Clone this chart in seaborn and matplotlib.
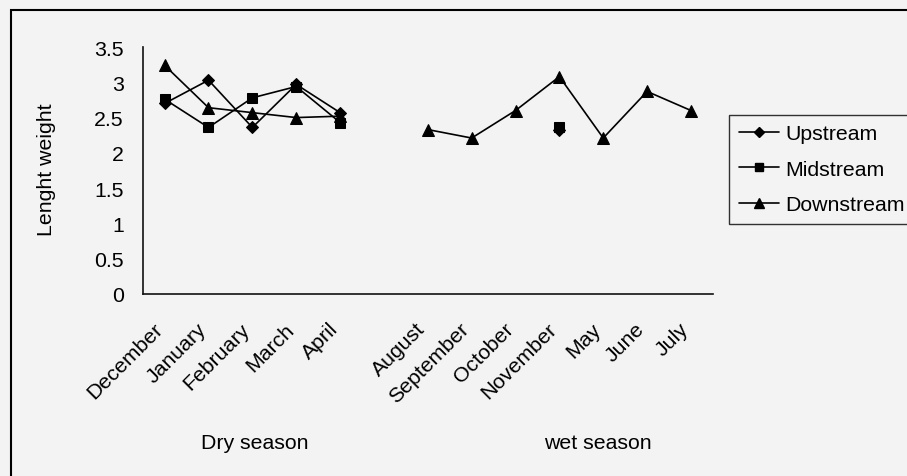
import numpy as np
import pandas as pd
import matplotlib
matplotlib.use("Agg")
import matplotlib.pyplot as plt
from matplotlib.lines import Line2D
from matplotlib.patches import Rectangle
import matplotlib.transforms as mtrans
import seaborn as sns

# ---- data ----
months = ["December", "January", "February", "March", "April", "",
          "August", "September", "October", "November", "May", "June", "July"]
seasons = ["Dry"] * 5 + [""] + ["Wet"] * 7
upstream = [2.70, 3.03, 2.36, 2.97, 2.57, np.nan,
            np.nan, np.nan, np.nan, 2.32, np.nan, np.nan, np.nan]
midstream = [2.76, 2.36, 2.78, 2.94, 2.43, np.nan,
             np.nan, np.nan, np.nan, 2.37, np.nan, np.nan, np.nan]
downstream = [3.24, 2.64, 2.57, 2.50, 2.52, np.nan,
              2.33, 2.21, 2.60, 3.08, 2.21, 2.87, 2.60]
sites = ["Upstream", "Midstream", "Downstream"]
season_labels = ["Dry season", "wet season"]
yticks = [0, 0.5, 1, 1.5, 2, 2.5, 3, 3.5]
ytick_labels = ["0", "0.5", "1", "1.5", "2", "2.5", "3", "3.5"]

rows = []
for site, vals in zip(sites, [upstream, midstream, downstream]):
    for i, (m, s, v) in enumerate(zip(months, seasons, vals)):
        rows.append({"pos": i, "month": m, "season": s, "site": site, "value": v})
df = pd.DataFrame(rows).dropna(subset=["value"])

# ---- style ----
sns.set_style("white")
plt.rcParams["font.family"] = ["Liberation Sans", "DejaVu Sans"]
for k in ["text.color", "axes.labelcolor", "xtick.color", "ytick.color"]:
    plt.rcParams[k] = "black"
bg = "#f3f3f3"
fs = 15.3

fig = plt.figure(figsize=(9.07, 4.77), dpi=100, facecolor=bg)
W, H = 907, 477
x0, x1 = 142.7, 712.9
ytop, ybot = 48, 295
ax = fig.add_axes([x0 / W, 1 - ybot / H, (x1 - x0) / W, (ybot - ytop) / H])
ax.set_facecolor(bg)

markers = {"Upstream": "D", "Midstream": "s", "Downstream": "^"}
msizes = {"Upstream": 6.5, "Midstream": 7, "Downstream": 8.5}

for season in ["Dry", "Wet"]:
    sub = df[df["season"] == season]
    for site in sites:
        d = sub[sub["site"] == site]
        sns.lineplot(data=d, x="pos", y="value", color="black",
                     marker=markers[site], markersize=msizes[site],
                     markeredgecolor="black", markerfacecolor="black",
                     linewidth=1.2, ax=ax, legend=False, sort=True)

ax.set_xlim(-0.5, len(months) - 0.5)
ax.set_ylim(0, 3.5)
ax.set_yticks(yticks)
ax.set_yticklabels(ytick_labels, fontsize=fs)
ax.set_xticks(range(len(months)))
ax.set_xticklabels(months, rotation=45, ha="right", rotation_mode="anchor", fontsize=fs)
ax.set_xticks(np.arange(-0.5, len(months)), minor=True)
ax.tick_params(axis="x", which="major", length=0, pad=8)
ax.tick_params(axis="x", which="minor", length=6, width=1.2, direction="out", color="#111111")
ax.tick_params(axis="y", which="major", length=6.5, width=1.2, direction="out", color="#111111", pad=7)
offset = mtrans.ScaledTranslation(-12 / 100, -14 / 100, fig.dpi_scale_trans)
for lab in ax.get_xticklabels():
    lab.set_transform(lab.get_transform() + offset)
ax.set_xlabel("")
ax.set_ylabel("Lenght weight", fontsize=fs, va="center")
ax.yaxis.set_label_coords(-0.168, 0.508)
for side in ["top", "right"]:
    ax.spines[side].set_visible(False)
for side in ["left", "bottom"]:
    ax.spines[side].set_color("#111111")
    ax.spines[side].set_linewidth(1.2)

# season labels
trans = mtrans.blended_transform_factory(ax.transData, fig.transFigure)
ax.text(2.06, 1 - 444 / H, season_labels[0], transform=trans, ha="center", va="center", fontsize=fs)
ax.text(9.88, 1 - 444 / H, season_labels[1], transform=trans, ha="center", va="center", fontsize=fs)

# legend
handles = [Line2D([0], [0], color="black", lw=1.2, marker=markers[s], markersize=msizes[s] - 1,
                  markerfacecolor="black", markeredgecolor="black") for s in sites]
leg = fig.legend(handles, sites, loc="lower left", bbox_to_anchor=(729 / W, 1 - 225 / H),
                 bbox_transform=fig.transFigure, borderaxespad=0, frameon=True, fancybox=False,
                 fontsize=fs, handlelength=1.9, handletextpad=0.3, labelspacing=0.78,
                 borderpad=0.45)
leg.get_frame().set_edgecolor("black")
leg.get_frame().set_linewidth(1.0)
leg.get_frame().set_facecolor(bg)

# outer frame
fig.patches.append(Rectangle((11 / W, -0.1), 1.2, 1.1 - 11 / H, transform=fig.transFigure,
                             fill=False, edgecolor="black", linewidth=1.5, zorder=0))

fig.savefig("out.png", dpi=100, facecolor=bg)
